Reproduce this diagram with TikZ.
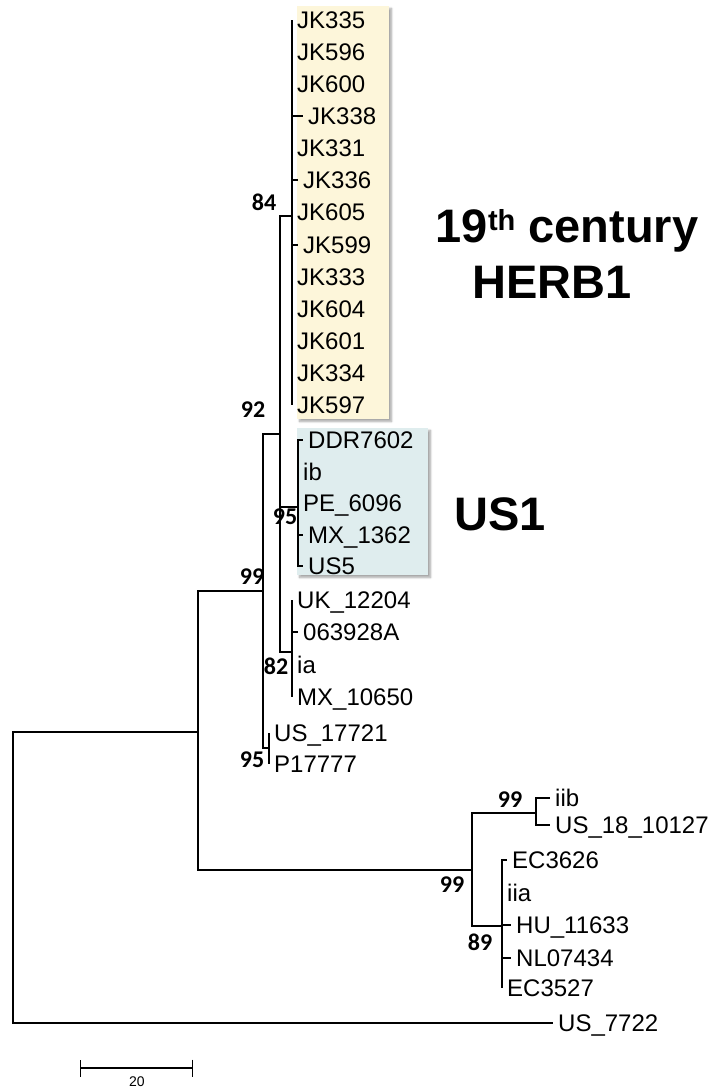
\documentclass[tikz,border=0pt]{standalone}
\usepackage{fontspec}
\setmainfont{Liberation Sans}
\newfontfamily\bootfont{Carlito}
\usepackage{xcolor}
\usepackage{tikz}
\usetikzlibrary{positioning,arrows.meta,shadows.blur}
\definecolor{HerbYellow}{HTML}{FDF6DA}
\definecolor{USBlue}{HTML}{DFEDEE}

\begin{document}
\begin{tikzpicture}[x=1pt, y=-1pt, node distance=5pt,
        branch/.style={draw=black, line width=1.1pt},
        leaf/.style={inner sep=0pt, text height=17pt, text depth=0pt, font=\fontsize{24}{24}\selectfont},
        boot/.style={inner sep=0pt, font=\bootfont\bfseries\fontsize{24}{24}\selectfont},
        clade/.style={inner sep=0pt, anchor=base, font=\bfseries\fontsize{47}{47}\selectfont},
        hilite/.style={blur shadow={shadow xshift=2.5pt, shadow yshift=-2.5pt, shadow blur steps=6, shadow opacity=35}}
    ]
        \useasboundingbox (0,0) rectangle (711,1090);

        % clade highlights
        \fill [HerbYellow, hilite] (297,6) rectangle (389,419);
        \fill [USBlue, hilite] (297,428) rectangle (428,575);

        % internal nodes
        \coordinate (root) at (13,877);
        \coordinate (n198) at (198,732);
        \coordinate (n263) at (263,591);
        \coordinate (n280) at (280,434);
        \coordinate (n84) at (292,216);
        \coordinate (nUS1) at (298,507);
        \coordinate (nia) at (292,652);
        \coordinate (n269) at (269,748);
        \coordinate (nII) at (472,870);
        \coordinate (niib) at (536,813);
        \coordinate (niia) at (502,926);

        % HERB1 leaves
        \coordinate (t335) at (292,20);  \node [leaf, right=of t335] (JK335) {JK335};
        \coordinate (t596) at (292,52);  \node [leaf, right=of t596] (JK596) {JK596};
        \coordinate (t600) at (292,84);  \node [leaf, right=of t600] (JK600) {JK600};
        \coordinate (t338) at (303,116); \node [leaf, right=of t338] (JK338) {JK338};
        \coordinate (t331) at (292,148); \node [leaf, right=of t331] (JK331) {JK331};
        \coordinate (t336) at (298,180); \node [leaf, right=of t336] (JK336) {JK336};
        \coordinate (t605) at (292,212); \node [leaf, right=of t605] (JK605) {JK605};
        \coordinate (t599) at (298,245); \node [leaf, right=of t599] (JK599) {JK599};
        \coordinate (t333) at (292,277); \node [leaf, right=of t333] (JK333) {JK333};
        \coordinate (t604) at (292,309); \node [leaf, right=of t604] (JK604) {JK604};
        \coordinate (t601) at (292,341); \node [leaf, right=of t601] (JK601) {JK601};
        \coordinate (t334) at (292,373); \node [leaf, right=of t334] (JK334) {JK334};
        \coordinate (t597) at (292,405); \node [leaf, right=of t597] (JK597) {JK597};

        % US1 leaves
        \coordinate (tddr) at (303,440); \node [leaf, right=of tddr] (DDR) {DDR7602};
        \coordinate (tib) at (298,472);  \node [leaf, right=of tib] (ib) {ib};
        \coordinate (tpe) at (298,503);  \node [leaf, right=of tpe] (PE) {PE\_6096};
        \coordinate (tmx1) at (303,535); \node [leaf, right=of tmx1] (MX1) {MX\_1362};
        \coordinate (tus5) at (303,566); \node [leaf, right=of tus5] (US5) {US5};

        % ia leaves
        \coordinate (tuk) at (292,600);  \node [leaf, right=of tuk] (UK) {UK\_12204};
        \coordinate (t063) at (298,632); \node [leaf, right=of t063] (A063) {063928A};
        \coordinate (tia) at (292,665);  \node [leaf, right=of tia] (ia) {ia};
        \coordinate (tmx2) at (292,697); \node [leaf, right=of tmx2] (MX2) {MX\_10650};

        \coordinate (tus17) at (269,733); \node [leaf, right=of tus17] (US17) {US\_17721};
        \coordinate (tp17) at (269,764);  \node [leaf, right=of tp17] (P17) {P17777};

        % clade II leaves
        \coordinate (tiib) at (550,798);  \node [leaf, right=of tiib] (iib) {iib};
        \coordinate (tus18) at (550,825); \node [leaf, right=of tus18] (US18) {US\_18\_10127};
        \coordinate (tec1) at (507,860);  \node [leaf, right=of tec1] (EC1) {EC3626};
        \coordinate (tiia) at (502,893);  \node [leaf, right=of tiia] (iia) {iia};
        \coordinate (thu) at (511,925);   \node [leaf, right=of thu] (HU) {HU\_11633};
        \coordinate (tnl) at (511,958);   \node [leaf, right=of tnl] (NL) {NL07434};
        \coordinate (tec2) at (502,988);  \node [leaf, right=of tec2] (EC2) {EC3527};

        \coordinate (tus77) at (553,1023); \node [leaf, right=of tus77] (US77) {US\_7722};

        % branches
        \draw [branch] (root) |- (n198) (root) |- (tus77);
        \draw [branch] (n198) |- (n263) (n198) |- (nII);
        \draw [branch] (n263) |- (n280) (n263) |- (n269);
        \draw [branch] (n280) |- (n84) (n280) |- (nUS1) (n280) |- (nia);
        \draw [branch] (n84) |- (t335) (n84) |- (t596) (n84) |- (t600) (n84) |- (t338)
            (n84) |- (t331) (n84) |- (t336) (n84) |- (t605) (n84) |- (t599) (n84) |- (t333)
            (n84) |- (t604) (n84) |- (t601) (n84) |- (t334) (n84) |- (t597);
        \draw [branch] (nUS1) |- (tddr) (nUS1) |- (tib) (nUS1) |- (tpe) (nUS1) |- (tmx1) (nUS1) |- (tus5);
        \draw [branch] (nia) |- (tuk) (nia) |- (t063) (nia) |- (tia) (nia) |- (tmx2);
        \draw [branch] (n269) |- (tus17) (n269) |- (tp17);
        \draw [branch] (nII) |- (niib) (nII) |- (niia);
        \draw [branch] (niib) |- (tiib) (niib) |- (tus18);
        \draw [branch] (niia) |- (tec1) (niia) |- (tiia) (niia) |- (thu) (niia) |- (tnl) (niia) |- (tec2);

        % bootstrap values
        \node [boot] (b84) at (264,202) {84};
        \node [boot] (b92) at (253,410) {92};
        \node [boot] (b95a) at (285,517) {95};
        \node [boot] (b99a) at (252,577) {99};
        \node [boot] (b82) at (276,666) {82};
        \node [boot] (b95b) at (252,760) {95};
        \node [boot] (b99b) at (510,800) {99};
        \node [boot] (b99c) at (452,885) {99};
        \node [boot] (b89) at (480,942) {89};

        % clade names
        \node [clade] (herb) at (567,242) {19\raisebox{12pt}{\fontsize{29}{29}\selectfont th} century};
        \node [clade] (herbb) at (552,298) {HERB1};
        \node [clade] (us1) at (500,530) {US1};

        % scale bar
        \coordinate (sbL) at (80,1068);
        \coordinate (sbR) at (193,1068);
        \draw [line width=1.1pt, {Bar[width=17pt]}-{Bar[width=17pt]}] (sbL) -- (sbR);
        \node [font=\fontsize{14}{14}\selectfont, inner sep=0pt] (sb) at (137,1082) {20};
    \end{tikzpicture}
\end{document}
